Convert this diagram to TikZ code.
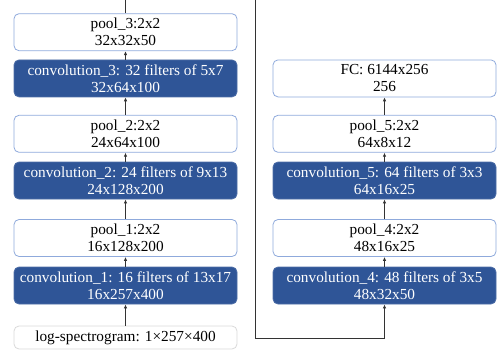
\documentclass[tikz,border=0pt]{standalone}
\usepackage{fontspec}
\setmainfont{Liberation Serif}
\usetikzlibrary{arrows.meta}
\definecolor{convblue}{HTML}{2F5597}
\definecolor{poolline}{HTML}{8FAADC}
\definecolor{inputline}{HTML}{D9D9D9}

\begin{document}
\begin{tikzpicture}[x=1pt, y=-1pt,
  box/.style={rounded corners=5pt, minimum width=223pt, minimum height=37pt,
    inner sep=0pt, align=center, line width=0.8pt,
    font=\fontsize{15.3}{17}\selectfont},
  poolbox/.style={box, draw=poolline, fill=white},
  convbox/.style={box, draw=convblue!85!white, fill=convblue, text=white},
  inputbox/.style={box, minimum height=23pt, draw=inputline, fill=white},
  link/.style={line width=1pt, black!80, -{Latex[length=4pt, width=3.5pt]}}]

  % page frame
  \useasboundingbox (0,0) rectangle (501,351);
  \clip (0,0) rectangle (501,351);

  % left column
  \node[inputbox] (input) at (125.5,337.5) {log-spectrogram: 1×257×400};
  \node[convbox] (conv1) at (125.5,285.5) {convolution\_1: 16 filters of 13x17\\16x257x400};
  \node[poolbox] (pool1) at (125.5,238) {pool\_1:2x2\\16x128x200};
  \node[convbox] (conv2) at (125.5,180.5) {convolution\_2: 24 filters of 9x13\\24x128x200};
  \node[poolbox] (pool2) at (125.5,133.8) {pool\_2:2x2\\24x64x100};
  \node[convbox] (conv3) at (125.5,78.4) {convolution\_3: 32 filters of 5x7\\32x64x100};
  \node[poolbox] (pool3) at (125.5,32.2) {pool\_3:2x2\\32x32x50};

  % right column
  \node[convbox] (conv4) at (384.5,285.5) {convolution\_4: 48 filters of 3x5\\48x32x50};
  \node[poolbox] (pool4) at (384.5,238) {pool\_4:2x2\\48x16x25};
  \node[convbox] (conv5) at (384.5,180.5) {convolution\_5: 64 filters of 3x3\\64x16x25};
  \node[poolbox] (pool5) at (384.5,133.8) {pool\_5:2x2\\64x8x12};
  \node[poolbox] (fc) at (384.5,78.4) {FC: 6144x256\\256};

  % connectors
  \draw[link] (input) -- (conv1);
  \draw[link] (conv1) -- (pool1);
  \draw[link] (pool1) -- (conv2);
  \draw[link] (conv2) -- (pool2);
  \draw[link] (pool2) -- (conv3);
  \draw[link] (conv3) -- (pool3);

  \coordinate (turn) at (255,-20);
  \coordinate (corner) at (255,338);
  \draw[link] (pool3.north) |- (turn) -- (corner) -| (conv4.south);

  \draw[link] (conv4) -- (pool4);
  \draw[link] (pool4) -- (conv5);
  \draw[link] (conv5) -- (pool5);
  \draw[link] (pool5) -- (fc);
\end{tikzpicture}
\end{document}
